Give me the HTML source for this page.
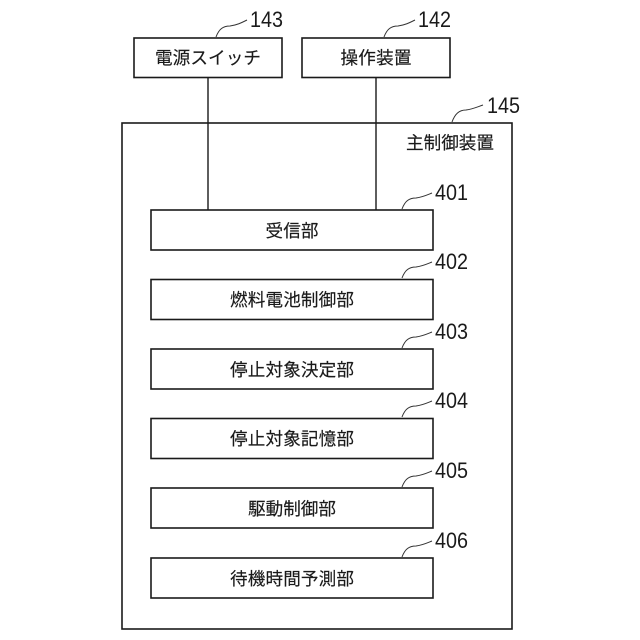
<!DOCTYPE html>
<html lang="ja">
<head>
<meta charset="utf-8">
<style>
html,body{margin:0;padding:0;background:#fff;width:640px;height:640px;overflow:hidden}
svg{display:block}
text{font-family:"Liberation Sans","Noto Sans CJK JP",sans-serif;fill:#1a1a1a}
.j{font-size:17.6px;text-anchor:middle;stroke:#1a1a1a;stroke-width:.15}
.n{font-size:22px}
rect{fill:#fff;stroke:#1a1a1a;stroke-width:1.6}
path{fill:none;stroke:#333;stroke-width:1}
line{stroke:#1a1a1a;stroke-width:1.4}
</style>
</head>
<body>
<svg width="640" height="640" viewBox="0 0 640 640" xmlns="http://www.w3.org/2000/svg">
<rect x="122" y="123" width="390" height="506"/>
<rect x="134" y="38" width="148" height="39.5"/>
<rect x="302" y="38" width="148" height="39.5"/>
<line x1="208" y1="77" x2="208" y2="210"/>
<line x1="376" y1="77" x2="376" y2="210"/>
<rect x="151" y="210" width="282" height="40"/>
<rect x="151" y="279.500" width="282" height="40"/>
<rect x="151" y="349" width="282" height="40"/>
<rect x="151" y="418.500" width="282" height="40"/>
<rect x="151" y="488" width="282" height="40"/>
<rect x="151" y="558" width="282" height="40"/>
<path d="M216 37C219 29 223 26 230 26C237 25 241 23 247 20"/>
<path d="M384 37C387 29 391 26 398 26C405 25 409 23 415 20"/>
<path d="M452 122C455 114 459 110 466 110C473 109 477 107 483 105"/>
<path d="M402 209C405 201 409 198 416 198C423 197 427 195 432 193"/>
<path d="M402 278C405 270 409 267 416 267C423 266 427 264 432 262"/>
<path d="M402 348C405 340 409 337 416 337C423 336 427 334 432 332"/>
<path d="M402 417C405 409 409 406 416 406C423 405 427 403 432 401"/>
<path d="M402 487C405 479 409 476 416 476C423 475 427 473 432 471"/>
<path d="M402 557C405 549 409 546 416 546C423 545 427 543 432 541"/>
<text class="n" x="250" y="27" textLength="33" lengthAdjust="spacingAndGlyphs">143</text>
<text class="n" x="418" y="27" textLength="33" lengthAdjust="spacingAndGlyphs">142</text>
<text class="n" x="487" y="113" textLength="33" lengthAdjust="spacingAndGlyphs">145</text>
<text class="n" x="435" y="200" textLength="33" lengthAdjust="spacingAndGlyphs">401</text>
<text class="n" x="435" y="269" textLength="33" lengthAdjust="spacingAndGlyphs">402</text>
<text class="n" x="435" y="339" textLength="33" lengthAdjust="spacingAndGlyphs">403</text>
<text class="n" x="435" y="408" textLength="33" lengthAdjust="spacingAndGlyphs">404</text>
<text class="n" x="435" y="478" textLength="33" lengthAdjust="spacingAndGlyphs">405</text>
<text class="n" x="435" y="548" textLength="33" lengthAdjust="spacingAndGlyphs">406</text>
<text class="j" x="208" y="64" textLength="106">電源スイッチ</text>
<text class="j" x="376" y="64" textLength="71">操作装置</text>
<text class="j" x="450" y="149" textLength="88">主制御装置</text>
<text class="j" x="292" y="237" textLength="53">受信部</text>
<text class="j" x="292" y="306" textLength="124">燃料電池制御部</text>
<text class="j" x="292" y="376" textLength="124">停止対象決定部</text>
<text class="j" x="292" y="445" textLength="124">停止対象記憶部</text>
<text class="j" x="292" y="515" textLength="88">駆動制御部</text>
<text class="j" x="292" y="585" textLength="124">待機時間予測部</text>
</svg>
</body>
</html>
